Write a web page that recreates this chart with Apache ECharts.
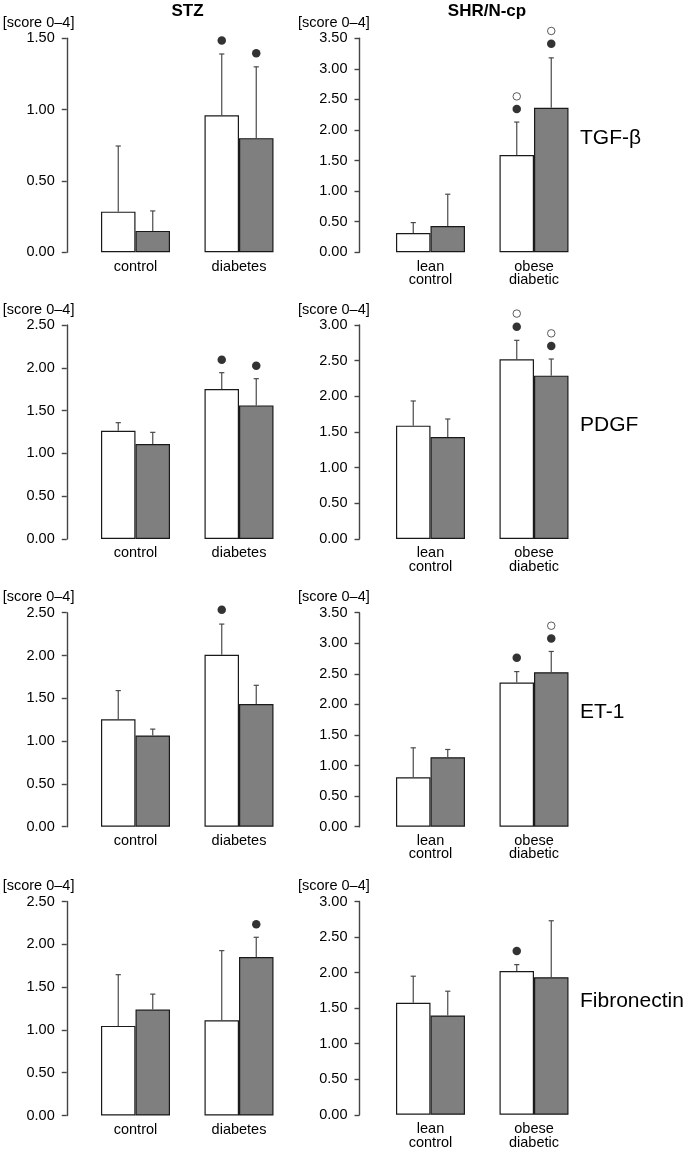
<!DOCTYPE html>
<html>
<head>
<meta charset="utf-8">
<script src="https://cdn.jsdelivr.net/npm/echarts@6/dist/echarts.min.js"></script>
<style>
html,body{margin:0;padding:0;background:#fff;}
#chart{width:685px;height:1150px;}
</style>
</head>
<body>
<div id="chart"></div>
<script>
// ---------- data ----------
const stzCategories = ['control', 'diabetes'];
const shrCategories = ['lean\ncontrol', 'obese\ndiabetic'];
const columnTitles = ['STZ', 'SHR/N-cp'];
const markerNames = ['TGF-β', 'PDGF', 'ET-1', 'Fibronectin'];
const yUnit = '[score 0–4]';

// y-axis maxima (ticks every 0.50)
const stzMax = [1.5, 2.5, 2.5, 2.5];
const shrMax = [3.5, 3.0, 3.5, 3.0];

// STZ: white bars / gray bars, means and SD (upper error)
const stzTgfWhite = [0.285, 0.96];   const stzTgfWhiteSD = [0.46, 0.43];
const stzTgfGray  = [0.15, 0.80];    const stzTgfGraySD  = [0.14, 0.50];
const stzPdgfWhite = [1.265, 1.752]; const stzPdgfWhiteSD = [0.094, 0.191];
const stzPdgfGray  = [1.11, 1.561];  const stzPdgfGraySD  = [0.136, 0.312];
const stzEt1White = [1.254, 2.008];  const stzEt1WhiteSD = [0.336, 0.359];
const stzEt1Gray  = [1.066, 1.434];  const stzEt1GraySD  = [0.074, 0.218];
const stzFibWhite = [1.047, 1.113];  const stzFibWhiteSD = [0.598, 0.813];
const stzFibGray  = [1.238, 1.852];  const stzFibGraySD  = [0.18, 0.23];

// SHR/N-cp
const shrTgfWhite = [0.316, 1.59];   const shrTgfWhiteSD = [0.17, 0.54];
const shrTgfGray  = [0.43, 2.365];   const shrTgfGraySD  = [0.52, 0.815];
const shrPdgfWhite = [1.589, 2.519]; const shrPdgfWhiteSD = [0.346, 0.266];
const shrPdgfGray  = [1.43, 2.29];   const shrPdgfGraySD  = [0.252, 0.233];
const shrEt1White = [0.809, 2.357];  const shrEt1WhiteSD = [0.481, 0.18];
const shrEt1Gray  = [1.137, 2.527];  const shrEt1GraySD  = [0.126, 0.339];
const shrFibWhite = [1.575, 2.023];  const shrFibWhiteSD = [0.374, 0.089];
const shrFibGray  = [1.397, 1.935];  const shrFibGraySD  = [0.341, 0.794];

// significance markers (y position per category, null = none)
const stzTgfDotWhite = [null, 1.485];  const stzTgfDotGray = [null, 1.395];
const stzPdgfDotWhite = [null, 2.095]; const stzPdgfDotGray = [null, 2.025];
const stzEt1DotWhite = [null, 2.535];  const stzEt1DotGray = [null, null];
const stzFibDotWhite = [null, null];   const stzFibDotGray = [null, 2.234];

const shrTgfDotWhite = [null, 2.345];  const shrTgfRingWhite = [null, 2.55];
const shrTgfDotGray  = [null, 3.41];   const shrTgfRingGray  = [null, 3.62];
const shrPdgfDotWhite = [null, 2.977]; const shrPdgfRingWhite = [null, 3.16];
const shrPdgfDotGray  = [null, 2.706]; const shrPdgfRingGray  = [null, 2.883];
const shrEt1DotWhite = [null, 2.762];  const shrEt1RingWhite = [null, null];
const shrEt1DotGray  = [null, 3.079];  const shrEt1RingGray  = [null, 3.287];
const shrFibDotWhite = [null, 2.304];  const shrFibRingWhite = [null, null];
const shrFibDotGray  = [null, null];   const shrFibRingGray  = [null, null];

// ---------- layout ----------
const FONT = "'Liberation Sans', Arial, Helvetica, sans-serif";
const rowTops = [38.3, 325, 612.7, 901.5];
const plotH = 214;
const colGridLeft = [83.75, 378.75];
const colAxisOffset = [17, 19.25];
const gridW = 207;
const barW = 34.5;

const panels = [
  {col:0,row:0,cats:stzCategories,max:stzMax[0],w:stzTgfWhite,wsd:stzTgfWhiteSD,g:stzTgfGray,gsd:stzTgfGraySD,dw:stzTgfDotWhite,dg:stzTgfDotGray},
  {col:1,row:0,cats:shrCategories,max:shrMax[0],w:shrTgfWhite,wsd:shrTgfWhiteSD,g:shrTgfGray,gsd:shrTgfGraySD,dw:shrTgfDotWhite,dg:shrTgfDotGray,rw:shrTgfRingWhite,rg:shrTgfRingGray},
  {col:0,row:1,cats:stzCategories,max:stzMax[1],w:stzPdgfWhite,wsd:stzPdgfWhiteSD,g:stzPdgfGray,gsd:stzPdgfGraySD,dw:stzPdgfDotWhite,dg:stzPdgfDotGray},
  {col:1,row:1,cats:shrCategories,max:shrMax[1],w:shrPdgfWhite,wsd:shrPdgfWhiteSD,g:shrPdgfGray,gsd:shrPdgfGraySD,dw:shrPdgfDotWhite,dg:shrPdgfDotGray,rw:shrPdgfRingWhite,rg:shrPdgfRingGray},
  {col:0,row:2,cats:stzCategories,max:stzMax[2],w:stzEt1White,wsd:stzEt1WhiteSD,g:stzEt1Gray,gsd:stzEt1GraySD,dw:stzEt1DotWhite,dg:stzEt1DotGray},
  {col:1,row:2,cats:shrCategories,max:shrMax[2],w:shrEt1White,wsd:shrEt1WhiteSD,g:shrEt1Gray,gsd:shrEt1GraySD,dw:shrEt1DotWhite,dg:shrEt1DotGray,rw:shrEt1RingWhite,rg:shrEt1RingGray},
  {col:0,row:3,cats:stzCategories,max:stzMax[3],w:stzFibWhite,wsd:stzFibWhiteSD,g:stzFibGray,gsd:stzFibGraySD,dw:stzFibDotWhite,dg:stzFibDotGray},
  {col:1,row:3,cats:shrCategories,max:shrMax[3],w:shrFibWhite,wsd:shrFibWhiteSD,g:shrFibGray,gsd:shrFibGraySD,dw:shrFibDotWhite,dg:shrFibDotGray,rw:shrFibRingWhite,rg:shrFibRingGray}
];

const grid = [], xAxis = [], yAxis = [], series = [];

function pts(arr){ return (arr||[]).map((v,i)=> v==null ? null : [i, v]).filter(Boolean); }

function errSeries(idx, means, sds, off){
  return {
    type:'custom', xAxisIndex:idx, yAxisIndex:idx, z:5, silent:true, clip:false,
    data: means.map((m,i)=>[i, m, m + sds[i]]),
    encode:{x:0, y:[1,2]},
    renderItem:function(params, api){
      const c = api.value(0);
      const p0 = api.coord([c, api.value(1)]);
      const p1 = api.coord([c, api.value(2)]);
      const x = p0[0] + off;
      const st = {stroke:'#4a4a4a', lineWidth:1.2};
      return {type:'group', children:[
        {type:'line', shape:{x1:x, y1:p0[1], x2:x, y2:p1[1]}, style:st},
        {type:'line', shape:{x1:x-2.6, y1:p1[1], x2:x+2.6, y2:p1[1]}, style:st}
      ]};
    }
  };
}

function scatter(idx, arr, off, open){
  return {
    type:'scatter', xAxisIndex:idx, yAxisIndex:idx, z:6, silent:true, clip:false,
    symbol:'circle', symbolSize: open ? 7.5 : 8.5, symbolOffset:[off, 0],
    itemStyle: open ? {color:'#fff', borderColor:'#333', borderWidth:1} : {color:'#000'},
    data: pts(arr)
  };
}

panels.forEach((p, idx) => {
  grid.push({left: colGridLeft[p.col], top: rowTops[p.row], width: gridW, height: plotH});
  xAxis.push({
    type:'category', gridIndex:idx, data:p.cats,
    axisLine:{show:false}, axisTick:{show:false},
    axisLabel:{fontFamily:FONT, fontSize:14.5, color:'#000', margin:7.5, lineHeight:13.5}
  });
  yAxis.push({
    type:'value', gridIndex:idx, min:0, max:p.max, interval:0.5,
    offset: colAxisOffset[p.col],
    splitLine:{show:false},
    axisLine:{show:true, lineStyle:{color:'#444', width:1.4}},
    axisTick:{show:true, inside:false, length:5, lineStyle:{color:'#444', width:1.4}},
    axisLabel:{fontFamily:FONT, fontSize:14.5, color:'#000', margin:12, formatter:v=>v.toFixed(2)}
  });
  series.push({
    type:'bar', xAxisIndex:idx, yAxisIndex:idx, data:p.w, barWidth:barW, barGap:'0%',
    itemStyle:{color:'#ffffff', borderColor:'#1a1a1a', borderWidth:1.2}, silent:true
  });
  series.push({
    type:'bar', xAxisIndex:idx, yAxisIndex:idx, data:p.g, barWidth:barW, barGap:'0%',
    itemStyle:{color:'#7f7f7f', borderColor:'#1a1a1a', borderWidth:1.2}, silent:true
  });
  series.push(errSeries(idx, p.w, p.wsd, -barW/2));
  series.push(errSeries(idx, p.g, p.gsd, barW/2));
  series.push(scatter(idx, p.dw, -barW/2, false));
  series.push(scatter(idx, p.dg, barW/2, false));
  if (p.rw) series.push(scatter(idx, p.rw, -barW/2, true));
  if (p.rg) series.push(scatter(idx, p.rg, barW/2, true));
});

const graphic = [];
graphic.push({type:'text', style:{text:columnTitles[0], x:187.5, y:11, align:'center', verticalAlign:'middle', font:"bold 17px " + FONT, fill:'#000'}});
graphic.push({type:'text', style:{text:columnTitles[1], x:487, y:11, align:'center', verticalAlign:'middle', font:"bold 17px " + FONT, fill:'#000'}});
const unitX = [2.7, 298];
rowTops.forEach((t, r) => {
  [0,1].forEach(c => {
    graphic.push({type:'text', style:{text:yUnit, x:unitX[c], y:t-15.5, align:'left', verticalAlign:'middle', font:"14.5px " + FONT, fill:'#000'}});
  });
  graphic.push({type:'text', style:{text:markerNames[r], x:580, y:t + 100, align:'left', verticalAlign:'middle', font:"21px " + FONT, fill:'#000'}});
});

const chart = echarts.init(document.getElementById('chart'), null, {renderer:'canvas'});
chart.setOption({
  animation:false,
  backgroundColor:'#fff',
  grid, xAxis, yAxis, series, graphic
});
</script>
</body>
</html>
